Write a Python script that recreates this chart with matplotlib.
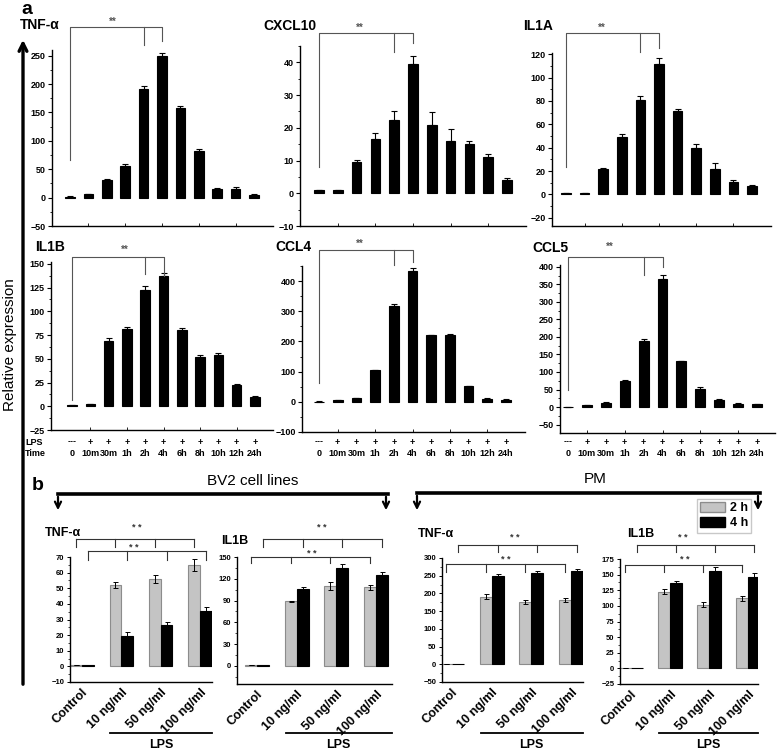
import matplotlib
matplotlib.use("Agg")
import matplotlib.pyplot as plt
import numpy as np
from matplotlib.lines import Line2D
from matplotlib.patches import Patch, FancyArrowPatch
from matplotlib.ticker import MultipleLocator
from matplotlib.transforms import blended_transform_factory

plt.rcParams['font.family'] = ['Liberation Sans', 'DejaVu Sans']
plt.rcParams['font.weight'] = 'bold'

W, H = 778, 750

# ---- panel a : time course after LPS
lps_marks = ['---'] + ['+'] * 10
time_points = ['0', '10m', '30m', '1h', '2h', '4h', '6h', '8h', '10h', '12h', '24h']

tnf_time = [1, 6, 31, 56, 191, 249, 158, 82, 15, 16, 5]
tnf_time_err = [1, 1, 2, 3, 6, 5, 3, 3, 2, 3, 1]
cxcl10_time = [1, 0.9, 9.5, 16.5, 22.5, 39.5, 21, 16, 15, 11, 4]
cxcl10_time_err = [0.1, 0.1, 0.8, 2, 2.5, 2.3, 3.8, 3.5, 1, 1, 0.8]
il1a_time = [1, 1, 22, 49.5, 80.5, 112, 71.5, 39.5, 22, 11, 7.5]
il1a_time_err = [0.3, 0.3, 1, 2, 4, 5, 2, 3.5, 5, 1.5, 1]
il1b_time = [1, 2, 69, 81, 123, 137, 80, 52, 54, 22, 10]
il1b_time_err = [0.3, 0.3, 2.5, 2, 4, 3, 2, 2.5, 2, 1, 1]
ccl4_time = [1, 5, 12, 105, 317, 433, 220, 220, 52, 10, 7]
ccl4_time_err = [1, 1, 1, 2, 8, 9, 2, 6, 2, 1, 1]
ccl5_time = [1, 6, 12, 75, 187, 366, 130, 51, 21, 10, 9]
ccl5_time_err = [0.5, 0.5, 1, 3, 8, 10, 2, 5, 2, 1, 1]

# ---- panel b : LPS dose, 2 h vs 4 h
doses = ['Control', '10 ng/ml', '50 ng/ml', '100 ng/ml']
bv2_tnf_2h = [1, 52, 56, 65]
bv2_tnf_2h_err = [0.2, 2, 2.5, 4]
bv2_tnf_4h = [1, 19.5, 26.5, 35.5]
bv2_tnf_4h_err = [0.2, 2.5, 2, 2.5]
bv2_il1b_2h = [1, 89, 110, 108]
bv2_il1b_2h_err = [0.3, 1, 5, 4]
bv2_il1b_4h = [1, 106, 135, 125]
bv2_il1b_4h_err = [0.3, 2, 5, 5]
pm_tnf_2h = [1, 191, 176, 182]
pm_tnf_2h_err = [1, 6, 5, 6]
pm_tnf_4h = [1, 249, 258, 264]
pm_tnf_4h_err = [1, 5, 5, 6]
pm_il1b_2h = [1, 123, 102, 112]
pm_il1b_2h_err = [0.3, 4, 4, 4]
pm_il1b_4h = [1, 137, 156, 147]
pm_il1b_4h_err = [0.3, 3, 6, 6]

fig = plt.figure(figsize=(W / 100, H / 100), dpi=100)


def fy(py):
    return 1 - py / H


def add_box(left, top, right, bottom):
    ax = fig.add_axes([left / W, fy(bottom), (right - left) / W, (bottom - top) / H])
    for s in ['top', 'right']:
        ax.spines[s].set_visible(False)
    for s in ['left', 'bottom']:
        ax.spines[s].set_linewidth(1.0)
    return ax


def time_panel(box, bar0, bar10, vals, errs, ylim, major, title, title_xy,
               bracket, labels=False, names=False):
    left, top, right, bottom = box
    ax = add_box(*box)
    step = (bar10 - bar0) / 10
    x = np.arange(len(vals))
    ax.bar(x, vals, width=0.52, color='black', edgecolor='black', lw=0.8)
    ax.errorbar(x, vals, yerr=[np.zeros(len(errs)), errs], fmt='none',
                ecolor='black', elinewidth=0.8, capsize=2, capthick=0.8)
    ax.set_xlim(-(bar0 - left) / step, 10 + (right - bar10) / step)
    ax.set_ylim(*ylim)
    ax.yaxis.set_major_locator(MultipleLocator(major))
    ax.yaxis.set_minor_locator(MultipleLocator(major / 2))
    ax.tick_params(axis='y', which='major', labelsize=6.5, length=3, width=0.8, pad=1.5)
    ax.tick_params(axis='y', which='minor', length=1.5, width=0.6)
    ax.set_xticks(x[1::2])
    ax.set_xticklabels([])
    ax.tick_params(axis='x', direction='in', length=2, width=0.6)
    fig.text(title_xy[0] / W, fy(title_xy[1]), title, ha='left', va='center',
             fontsize=10, weight='bold')

    tr = blended_transform_factory(ax.transData, fig.transFigure)
    hy, left_bot, b4_bot, b5_bot, star = bracket
    col = '#555555'
    ax.plot([0, 0, 5, 5], [fy(left_bot), fy(hy), fy(hy), fy(b5_bot)], color=col,
            lw=0.8, transform=tr, clip_on=False)
    ax.plot([4, 4], [fy(hy), fy(b4_bot)], color=col, lw=0.8, transform=tr, clip_on=False)
    fig.text(star[0] / W, fy(star[1]), '**', ha='center', va='center', fontsize=7, color=col)

    if labels:
        for i in range(len(vals)):
            ax.text(i, fy(442), lps_marks[i], transform=tr, ha='center', va='center', fontsize=6.5)
            ax.text(i, fy(453), time_points[i], transform=tr, ha='center', va='center', fontsize=6.5)
    if names:
        fig.text(25 / W, fy(442), 'LPS', ha='left', va='center', fontsize=6.5)
        fig.text(25 / W, fy(453), 'Time', ha='left', va='center', fontsize=6.5)
    return ax


def dose_panel(box, g0, g3, v2, e2, v4, e4, ylim, major, title, title_xy, brackets):
    left, top, right, bottom = box
    ax = add_box(*box)
    step = (g3 - g0) / 3
    x = np.arange(len(v2))
    ax.bar(x - 0.15, v2, 0.3, color='#c4c4c4', edgecolor='#8c8c8c', lw=0.8)
    ax.bar(x + 0.15, v4, 0.3, color='black', edgecolor='black', lw=0.8)
    ax.errorbar(x - 0.15, v2, yerr=e2, fmt='none', ecolor='black',
                elinewidth=0.7, capsize=1.8, capthick=0.7)
    ax.errorbar(x + 0.15, v4, yerr=[np.zeros(len(e4)), e4], fmt='none', ecolor='black',
                elinewidth=0.7, capsize=1.8, capthick=0.7)
    xl = -(g0 - left) / step
    xr = 3 + (right - g3) / step
    ax.set_xlim(xl, xr)
    ax.set_ylim(*ylim)
    ax.yaxis.set_major_locator(MultipleLocator(major))
    ax.yaxis.set_minor_locator(MultipleLocator(major / 2))
    ax.tick_params(axis='y', which='major', labelsize=5.5, length=2.5, width=0.7, pad=1.5)
    ax.tick_params(axis='y', which='minor', length=1.3, width=0.5)
    ax.set_xticks(x)
    ax.set_xticklabels(doses, rotation=45, ha='right', rotation_mode='anchor', fontsize=9)
    ax.tick_params(axis='x', length=0, pad=3)
    fig.text(title_xy[0] / W, fy(title_xy[1]), title, ha='left', va='center',
             fontsize=9, weight='bold')

    tr = blended_transform_factory(ax.transData, fig.transFigure)
    for off, hy, tb, star in brackets:
        xs = x + off
        ax.plot([xs[0], xs[-1]], [fy(hy), fy(hy)], color='#333333', lw=0.8,
                transform=tr, clip_on=False)
        for xi in xs:
            ax.plot([xi, xi], [fy(hy), fy(tb)], color='#333333', lw=0.8,
                    transform=tr, clip_on=False)
        fig.text(star[0] / W, fy(star[1]), '* *', ha='center', va='center', fontsize=6.5,
                 color='#333333')

    ax.plot([0.72, xr], [fy(733), fy(733)], color='black', lw=1.3, transform=tr, clip_on=False)
    ax.text((0.72 + xr) / 2, fy(745), 'LPS', transform=tr, ha='center', va='center', fontsize=9)
    return ax


# ---------------- panel a
time_panel((52, 50, 273, 226), 70, 254, tnf_time, tnf_time_err, (-50, 260), 50,
           'TNF-α', (20, 25), (27, 160, 45, 41, (113, 22)))
time_panel((300, 46, 526, 226), 319, 507, cxcl10_time, cxcl10_time_err, (-10, 45), 10,
           'CXCL10', (263, 26), (33, 167, 52, 43, (360, 28)))
time_panel((552, 53, 771, 226), 566, 752, il1a_time, il1a_time_err, (-27, 121), 20,
           'IL1A', (523, 26), (33, 167, 52, 48, (602, 28)))
time_panel((51, 262, 273, 430), 72, 255, il1b_time, il1b_time_err, (-25, 152), 25,
           'IL1B', (35, 247), (257, 400, 274, 276, (125, 250)), labels=True, names=True)
time_panel((302, 266, 525, 432), 319, 506, ccl4_time, ccl4_time_err, (-100, 450), 100,
           'CCL4', (275, 247), (250, 383, 265, 262, (360, 244)), labels=True)
time_panel((560, 265, 775, 433), 568, 757, ccl5_time, ccl5_time_err, (-74, 405), 50,
           'CCL5', (532, 248), (257, 390, 275, 267, (610, 247)), labels=True)

# ---------------- panel b
dose_panel((70, 557, 212, 682), 82, 200, bv2_tnf_2h, bv2_tnf_2h_err, bv2_tnf_4h, bv2_tnf_4h_err,
           (-10, 70), 10, 'TNF-α', (45, 533),
           [(-0.15, 539, 547, (137, 528)), (0.15, 551, 560, (134, 547))])
dose_panel((237, 557, 392, 684), 257, 376, bv2_il1b_2h, bv2_il1b_2h_err, bv2_il1b_4h, bv2_il1b_4h_err,
           (-25, 150), 30, 'IL1B', (221, 541),
           [(0.15, 539, 547, (322, 528)), (-0.15, 557, 563, (312, 553))])
dose_panel((442, 558, 583, 682), 452, 571, pm_tnf_2h, pm_tnf_2h_err, pm_tnf_4h, pm_tnf_4h_err,
           (-50, 300), 50, 'TNF-α', (418, 534),
           [(0.15, 545, 552, (515, 537)), (-0.15, 564, 572, (506, 560))])
dose_panel((620, 559, 758, 684), 631, 748, pm_il1b_2h, pm_il1b_2h_err, pm_il1b_4h, pm_il1b_4h_err,
           (-25, 175), 25, 'IL1B', (627, 534),
           [(0.15, 545, 552, (683, 537)), (-0.15, 565, 572, (685, 560))])

# ---------------- decorations
fig.text(21 / W, fy(9), 'a', fontsize=14, weight='bold', ha='left', va='center')
fig.text(32 / W, fy(486), 'b', fontsize=14, weight='bold', ha='left', va='center')
fig.text(10 / W, fy(345), 'Relative expression', rotation=90, ha='center', va='center',
         fontsize=11, weight='normal')

fig.add_artist(FancyArrowPatch((23 / W, fy(687)), (23 / W, fy(37)), transform=fig.transFigure,
                               arrowstyle='->', mutation_scale=14, lw=2.4, color='black'))

for x0, x1, yl, label, tx, ty in [(58, 388, 494, 'BV2 cell lines', 253, 481),
                                   (417, 760, 493, 'PM', 595, 479)]:
    fig.add_artist(Line2D([x0 / W, x1 / W], [fy(yl), fy(yl)], transform=fig.transFigure,
                          color='black', lw=2.6))
    for xa in (x0, x1 - 2):
        fig.add_artist(FancyArrowPatch((xa / W, fy(yl)), (xa / W, fy(513)),
                                       transform=fig.transFigure, arrowstyle='->',
                                       mutation_scale=11, lw=1.6, color='black'))
    fig.text(tx / W, fy(ty), label, ha='center', va='center', fontsize=11, weight='normal')

handles = [Patch(facecolor='#c4c4c4', edgecolor='#8c8c8c', label='2 h'),
           Patch(facecolor='black', edgecolor='black', label='4 h')]
fig.legend(handles=handles, loc='upper right', bbox_to_anchor=(751 / W, fy(499)),
           fontsize=9, frameon=True, fancybox=False, edgecolor='#bbbbbb',
           handlelength=2.0, handleheight=0.8, borderpad=0.25, labelspacing=0.25,
           handletextpad=0.4, borderaxespad=0)

fig.savefig('out.png', dpi=100)
